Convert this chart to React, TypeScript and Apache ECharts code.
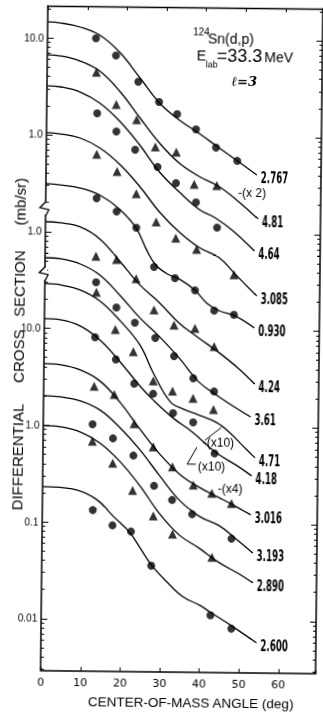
import React, { useEffect, useRef } from "react";
import * as echarts from "echarts";

// Excitation energies (MeV) labelling each angular distribution, top to bottom
const LEVELS = ["2.767", "4.81", "4.64", "3.085", "0.930", "4.24", "3.61", "4.71", "4.18", "3.016", "3.193", "2.890", "2.600"];
const MARKERS = ["circle", "triangle", "circle", "triangle", "circle", "triangle", "circle", "triangle", "circle", "triangle", "circle", "triangle", "circle"];

// y values are positions on the stacked logarithmic scale, in decades
// (0 = the "0.01" label, 1 = "0.1", 2 = "1.0", 3 = "10.0", 4 = "1.0", 5 = "1.0", 6 = "10.0")
const THEORY_ANGLE: number[][] = [
  [0, 3.2, 8.2, 13.2, 18.3, 23.4, 28.4, 33.5, 38.5, 43.5, 48.6, 53.2],
  [0, 3.3, 8.3, 13.3, 18.4, 23.5, 28.5, 33.6, 38.6, 43.7, 48.7, 53.6],
  [0, 3.4, 8.4, 13.4, 18.5, 23.5, 28.6, 33.7, 38.7, 42.7, 47.3, 52.8],
  [0, 3.5, 8.5, 13.6, 18.6, 23.7, 28.7, 33.8, 38.8, 43.9, 47.9, 53.5],
  [0, 3.7, 8.7, 13.7, 18.7, 22.8, 25.8, 27.9, 30.9, 33.9, 37.9, 41.0, 44.0, 48.0, 53.0],
  [0, 3.8, 8.8, 13.8, 18.9, 23.9, 29.0, 34.0, 39.1, 44.1, 49.2, 53.2],
  [0, 3.9, 8.9, 13.9, 19.0, 24.0, 29.1, 34.1, 39.2, 44.2, 47.3, 52.3],
  [0, 3.9, 8.9, 14.0, 19.0, 24.1, 27.7, 32.0, 35.3, 38.7, 43.7, 47.1, 50.4, 53.5],
  [0, 4.0, 9.0, 14.1, 19.1, 24.2, 27.6, 32.7, 37.7, 43.6, 49.4, 52.7],
  [0, 4.2, 9.2, 14.2, 19.3, 24.3, 29.4, 34.5, 39.5, 44.5, 47.5, 52.6],
  [0, 4.2, 9.3, 14.3, 19.3, 24.4, 29.5, 34.5, 39.6, 44.6, 48.6, 53.2],
  [0, 4.3, 9.3, 14.4, 19.4, 24.5, 29.6, 34.6, 39.7, 44.7, 49.7, 53.3],
  [0, 7.5, 13.5, 17.9, 22.1, 24.7, 27.6, 31.6, 35.8, 40.0, 42.7, 48.0, 54.4],
];
const THEORY_LOGY: number[][] = [
  [6.167, 6.157, 6.116, 6.033, 5.857, 5.599, 5.341, 5.165, 5.031, 4.886, 4.742, 4.607],
  [5.826, 5.816, 5.764, 5.661, 5.455, 5.186, 4.928, 4.721, 4.587, 4.483, 4.329, 4.153],
  [5.506, 5.496, 5.444, 5.331, 5.145, 4.907, 4.628, 4.421, 4.246, 4.163, 4.029, 3.822],
  [5.021, 5.010, 4.969, 4.866, 4.700, 4.473, 4.215, 4.008, 3.853, 3.750, 3.585, 3.357],
  [4.494, 4.483, 4.452, 4.380, 4.236, 4.050, 3.802, 3.667, 3.574, 3.523, 3.409, 3.275, 3.202, 3.151, 3.027],
  [4.101, 4.091, 4.050, 3.926, 3.698, 3.461, 3.275, 3.068, 2.913, 2.769, 2.603, 2.448],
  [3.729, 3.719, 3.667, 3.554, 3.347, 3.120, 2.924, 2.707, 2.459, 2.314, 2.231, 2.107],
  [3.461, 3.450, 3.399, 3.285, 3.089, 2.841, 2.541, 2.252, 2.180, 2.128, 2.045, 1.942, 1.808, 1.684],
  [3.099, 3.089, 3.027, 2.882, 2.665, 2.417, 2.273, 2.087, 1.942, 1.736, 1.591, 1.498],
  [2.634, 2.624, 2.572, 2.459, 2.242, 1.973, 1.715, 1.508, 1.374, 1.271, 1.209, 1.095],
  [2.304, 2.293, 2.252, 2.159, 1.983, 1.756, 1.488, 1.240, 1.074, 0.981, 0.857, 0.702],
  [1.994, 1.983, 1.932, 1.818, 1.632, 1.384, 1.095, 0.878, 0.744, 0.599, 0.486, 0.393],
  [1.364, 1.343, 1.240, 1.064, 0.899, 0.744, 0.568, 0.393, 0.238, 0.155, 0.083, -0.052, -0.227],
];
const DATA_ANGLE: number[][] = [
  [12.2, 17.3, 23.0, 28.3, 32.9, 37.7, 42.8, 48.2],
  [12.4, 17.5, 22.7, 27.5, 32.8, 37.4, 43.1],
  [12.7, 17.6, 22.4, 28.1, 32.8, 37.9, 43.3],
  [12.7, 17.9, 22.8, 27.9, 32.9, 38.2, 47.7],
  [12.8, 17.9, 22.9, 27.5, 32.8, 37.9, 42.8, 47.8],
  [12.8, 18.0, 23.0, 27.6, 32.7, 38.0, 42.9],
  [12.9, 18.1, 22.8, 28.0, 32.8, 37.7, 43.0],
  [13.0, 17.9, 22.5, 27.6, 32.5, 37.7, 42.9],
  [12.8, 18.1, 22.8, 27.6, 32.7, 37.8, 43.3],
  [12.7, 17.8, 22.9, 27.8, 32.7, 38.0, 42.7, 47.7],
  [12.4, 17.6, 22.8, 28.1, 32.7, 37.8, 47.8],
  [12.4, 17.6, 22.7, 28.0, 32.9, 42.9],
  [12.7, 17.7, 22.4, 27.6, 42.7, 48.0],
];
const DATA_LOGY: number[][] = [
  [6.002, 5.826, 5.558, 5.351, 5.227, 5.072, 4.886, 4.752],
  [5.651, 5.320, 5.165, 4.886, 4.835, 4.504, 4.494],
  [5.227, 5.041, 4.855, 4.680, 4.514, 4.318, 4.060],
  [4.804, 4.628, 4.401, 4.112, 3.946, 3.833, 3.574],
  [4.349, 4.215, 4.050, 3.647, 3.533, 3.409, 3.202, 3.161],
  [3.750, 3.719, 3.523, 3.202, 3.048, 3.016, 2.831],
  [3.481, 3.223, 3.068, 2.913, 2.727, 2.500, 2.366],
  [3.378, 2.996, 2.769, 2.469, 2.366, 2.293, 2.180],
  [2.913, 2.686, 2.438, 2.335, 2.138, 2.045, 1.725],
  [2.407, 2.324, 2.025, 1.787, 1.581, 1.395, 1.312, 1.209],
  [2.014, 1.870, 1.694, 1.384, 1.240, 1.095, 0.847],
  [1.839, 1.612, 1.333, 1.074, 0.888, 0.651],
  [1.126, 0.971, 0.909, 0.558, 0.052, -0.083],
];

const Y_TICK_POS = [0, 1, 2, 3, 4, 5, 6];
const Y_TICK_LABELS = ["0.01", "0.1", "1.0", "10.0", "1.0", "1.0", "10.0"];
const AXIS_BREAKS = [4.236, 3.564];
const MULTIPLIERS = ["-(x 2)", "-(x10)", "(x10)", "-(x4)"];

const Y_MIN = -0.537;
const Y_MAX = 6.333;
const X_MAX = 69.4;

// annotation placement (display layout, in axis units)
const ANNOTATION_LAYOUT: { at: number[]; leader?: number[][] }[] = [
  { at: [48.5, 4.421] },
  { at: [40.3, 1.839], leader: [[40.8, 1.86], [45.0, 1.997]] },
  { at: [39.1, 1.591], leader: [[38.8, 1.787], [36.4, 1.612], [38.6, 1.612]] },
  { at: [44.2, 1.364] },
];

function minorTicks(): number[] {
  const out: number[] = [];
  for (let n = -1; n <= 6; n++) {
    for (let k = 2; k <= 9; k++) {
      const v = n + Math.log10(k);
      if (v > Y_MIN && v < Y_MAX) out.push(v);
    }
  }
  return out;
}

export default function App() {
  const ref = useRef<HTMLDivElement>(null);
  useEffect(() => {
    if (!ref.current) return;
    const chart = echarts.init(ref.current, undefined, { renderer: "svg" });
    const minors = minorTicks();
    const black = "#000";
    const series: any[] = [];
    LEVELS.forEach((lvl, i) => {
      series.push({
        type: "line",
        name: lvl,
        data: THEORY_ANGLE[i].map((a, j) => [a, THEORY_LOGY[i][j]]),
        smooth: 0.4,
        symbol: "none",
        showSymbol: false,
        lineStyle: { color: black, width: 1.3 },
        silent: true,
        z: 2,
      });
      series.push({
        type: "scatter",
        name: lvl + " data",
        data: DATA_ANGLE[i].map((a, j) => [a, DATA_LOGY[i][j]]),
        symbol: MARKERS[i],
        symbolSize: MARKERS[i] === "circle" ? 8 : 9,
        itemStyle: { color: black },
        silent: true,
        z: 3,
      });
    });
    // energy labels at the end of each theory curve
    series.push({
      type: "custom",
      silent: true,
      z: 4,
      data: LEVELS.map((_, i) => {
        const n = THEORY_ANGLE[i].length - 1;
        return [THEORY_ANGLE[i][n], THEORY_LOGY[i][n], i];
      }),
      renderItem: (_p: any, api: any) => {
        const pt = api.coord([api.value(0), api.value(1)]);
        const idx = api.value(2);
        return {
          type: "text",
          x: pt[0] + 4,
          y: pt[1] + 3,
          scaleX: 0.6,
          style: {
            text: LEVELS[idx],
            font: 'bold 16px "DejaVu Sans Condensed", "DejaVu Sans", sans-serif',
            fill: black,
            align: "left",
            verticalAlign: "middle",
          },
        };
      },
    });
    // multiplier annotations
    series.push({
      type: "custom",
      silent: true,
      z: 4,
      data: ANNOTATION_LAYOUT.map((a, i) => [a.at[0], a.at[1], i]),
      renderItem: (_p: any, api: any) => {
        const idx = api.value(2);
        const pt = api.coord([api.value(0), api.value(1)]);
        const children: any[] = [
          {
            type: "text",
            x: pt[0],
            y: pt[1],
            style: {
              text: MULTIPLIERS[idx],
              font: '12px "Liberation Sans", Arial, sans-serif',
              fill: black,
              align: "left",
              verticalAlign: "middle",
            },
          },
        ];
        const leader = ANNOTATION_LAYOUT[idx].leader;
        if (leader) {
          children.push({
            type: "polyline",
            shape: { points: leader.map((q) => api.coord(q)) },
            style: { stroke: black, lineWidth: 1, fill: null },
          });
        }
        return { type: "group", children };
      },
    });
    // axis break marks on the left axis
    series.push({
      type: "custom",
      silent: true,
      z: 5,
      data: AXIS_BREAKS.map((u) => [0, u]),
      renderItem: (_p: any, api: any) => {
        const pt = api.coord([api.value(0), api.value(1)]);
        const x = pt[0];
        const y = pt[1];
        return {
          type: "group",
          children: [
            { type: "rect", shape: { x: x - 2, y: y - 6, width: 4, height: 12 }, style: { fill: "#fff" } },
            {
              type: "polyline",
              shape: { points: [[x, y - 7], [x - 6, y - 1], [x + 3, y + 1], [x, y + 7]] },
              style: { stroke: black, lineWidth: 1.3, fill: null },
            },
          ],
        };
      },
    });

    const yBase = {
      type: "value",
      min: Y_MIN,
      max: Y_MAX,
      splitLine: { show: false },
    };
    chart.setOption({
      animation: false,
      backgroundColor: "#fff",
      grid: { left: 44.2, right: 4, top: 7, bottom: 43.2, containLabel: false, outerBoundsMode: "none" },
      xAxis: [
        {
          type: "value",
          min: 0,
          max: X_MAX,
          interval: 10,
          position: "bottom",
          axisLine: { onZero: false, lineStyle: { color: black, width: 1.6 } },
          axisTick: { inside: true, length: 4, lineStyle: { color: black } },
          axisLabel: {
            margin: 6,
            color: black,
            fontSize: 11,
            fontFamily: '"DejaVu Sans", sans-serif',
            formatter: (v: number) => (v > 60.5 ? "" : String(v)),
          },
          splitLine: { show: false },
          name: "CENTER-OF-MASS ANGLE (deg)",
          nameLocation: "middle",
          nameGap: 24,
          nameMoveOverlap: false,
          nameTextStyle: {
            color: black,
            fontSize: 13.5,
            fontFamily: '"Liberation Sans", Arial, sans-serif',
            padding: [0, 0, 0, 26],
          },
        },
        {
          type: "value",
          min: 0,
          max: X_MAX,
          interval: 10,
          position: "top",
          axisLine: { onZero: false, lineStyle: { color: black, width: 1.4 } },
          axisTick: { inside: true, length: 4, lineStyle: { color: black } },
          axisLabel: { show: false },
          splitLine: { show: false },
        },
      ],
      yAxis: [
        {
          ...yBase,
          position: "left",
          axisLine: { show: true, onZero: false, lineStyle: { color: black, width: 1.5 } },
          axisTick: { inside: true, length: 6, customValues: Y_TICK_POS, lineStyle: { color: black } },
          axisLabel: {
            customValues: Y_TICK_POS,
            margin: 4,
            color: black,
            fontSize: 10,
            fontFamily: '"Liberation Sans", Arial, sans-serif',
            formatter: (v: number) => {
              const k = Y_TICK_POS.indexOf(Math.round(v));
              return k >= 0 ? Y_TICK_LABELS[k] : "";
            },
          },
          name:
            "DIFFERENTIAL\u00a0\u00a0\u00a0\u00a0\u00a0CROSS\u00a0\u00a0\u00a0SECTION\u00a0\u00a0\u00a0\u00a0\u00a0\u00a0(mb/sr)\u00a0\u00a0\u00a0",
          nameLocation: "middle",
          nameGap: 18,
          nameMoveOverlap: false,
          nameTextStyle: {
            color: black,
            fontSize: 15,
            fontFamily: '"Liberation Sans", Arial, sans-serif',
          },
        },
        {
          ...yBase,
          position: "left",
          axisLine: { show: false, onZero: false },
          axisTick: { inside: true, length: 3, customValues: minors, lineStyle: { color: black } },
          axisLabel: { show: false },
        },
        {
          ...yBase,
          position: "right",
          axisLine: { show: true, onZero: false, lineStyle: { color: black, width: 1.5 } },
          axisTick: { inside: true, length: 6, customValues: Y_TICK_POS, lineStyle: { color: black } },
          axisLabel: { show: false },
        },
        {
          ...yBase,
          position: "right",
          axisLine: { show: false, onZero: false },
          axisTick: { inside: true, length: 3, customValues: minors, lineStyle: { color: black } },
          axisLabel: { show: false },
        },
      ],
      graphic: [
        { type: "text", x: 189.5, y: 31, style: { text: "124", font: '10px "Liberation Sans", Arial, sans-serif', fill: black, verticalAlign: "middle" } },
        { type: "text", x: 204.5, y: 38, style: { text: "Sn(d,p)", font: '14px "Liberation Sans", Arial, sans-serif', fill: black, verticalAlign: "middle" } },
        { type: "text", x: 193.5, y: 55, style: { text: "E", font: '14px "Liberation Sans", Arial, sans-serif', fill: black, verticalAlign: "middle" } },
        { type: "text", x: 202.5, y: 64, style: { text: "lab", font: '9px "Liberation Sans", Arial, sans-serif', fill: black, verticalAlign: "middle" } },
        { type: "text", x: 213.5, y: 55, style: { text: "=33.3", font: '18px "Liberation Sans", Arial, sans-serif', fill: black, verticalAlign: "middle" } },
        { type: "text", x: 261, y: 56, style: { text: "MeV", font: '14px "Liberation Sans", Arial, sans-serif', fill: black, verticalAlign: "middle" } },
        { type: "text", x: 228.5, y: 80, style: { text: "ℓ=3", font: 'italic bold 13px "DejaVu Serif", serif', fill: black, verticalAlign: "middle" } },
      ],
      series,
    });
    return () => chart.dispose();
  }, []);
  return (
    <div
      ref={ref}
      style={{
        position: "fixed",
        left: 0,
        top: 0,
        width: 323,
        height: 715,
        transform: "rotate(0.63deg)",
        transformOrigin: "50% 50%",
        background: "#fff",
      }}
    />
  );
}
